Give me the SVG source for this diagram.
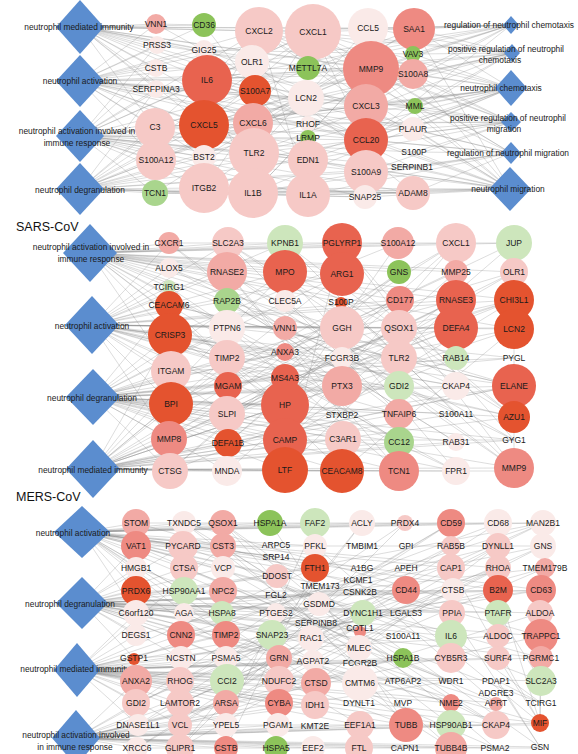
<svg xmlns="http://www.w3.org/2000/svg" width="578" height="754" viewBox="0 0 578 754">
<style>
text{font-family:"Liberation Sans",Arial,sans-serif;font-size:8.5px;fill:#1a1a1a;text-anchor:middle;dominant-baseline:central}
.lb{font-size:8.4px}
.ti{font-size:12.5px;text-anchor:start;fill:#111;dominant-baseline:alphabetic}
.e{stroke:#858585;stroke-width:0.4;fill:none;opacity:0.7}
.d{fill:#5b8dcf}
.r1{fill:#e4532f}.r2{fill:#e8634f}.r3{fill:#ee8a82}.r4{fill:#f2aaa5}.r5{fill:#f6c9c6}.r6{fill:#faeae8}
.g1{fill:#8cc35a}.g2{fill:#a9d58d}.g3{fill:#cde6bc}
</style>
<rect width="578" height="754" fill="#fff"/>
<g id="connectors">
<path class="e" d="M80 27L156 24M80 27L157 45M80 27L156 68M80 27L156 89M80 27L155 128M80 27L204 25M80 27L204 50M80 27L207 80M80 27L204 125M80 27L259 31M80 27L252 62M80 27L255 91M80 27L313 32M80 27L308 68M80 27L306 98M80 27L368 28M80 27L371 69M80 27L414 29M80 27L413 74M80 27L366 106M80 27L253 123M80 27L254 153
M80 81L156 24M80 81L157 45M80 81L156 68M80 81L156 89M80 81L155 128M80 81L156 160M80 81L204 25M80 81L204 50M80 81L207 80M80 81L204 125M80 81L204 157M80 81L259 31M80 81L252 62M80 81L255 91M80 81L253 123M80 81L313 32M80 81L306 98M80 81L308 124M80 81L371 69M80 81L366 106M80 81L366 140M80 81L413 74M80 81L415 106M80 81L413 129M80 81L254 153M80 81L308 160
M80 136L157 45M80 136L156 68M80 136L156 89M80 136L155 128M80 136L156 160M80 136L155 193M80 136L207 80M80 136L204 125M80 136L204 157M80 136L204 188M80 136L255 91M80 136L253 123M80 136L254 153M80 136L253 193M80 136L306 98M80 136L308 138M80 136L308 160M80 136L308 195M80 136L366 106M80 136L366 140M80 136L366 172M80 136L365 197M80 136L413 129M80 136L414 152M80 136L412 167M80 136L413 193M80 136L259 31M80 136L313 32
M80 189L156 89M80 189L155 128M80 189L156 160M80 189L155 193M80 189L204 125M80 189L204 157M80 189L204 188M80 189L253 123M80 189L254 153M80 189L253 193M80 189L308 160M80 189L308 195M80 189L366 172M80 189L365 197M80 189L413 193M80 189L412 167M80 189L366 140M80 189L308 124M80 189L207 80M80 189L255 91M80 189L371 69M80 189L313 32
M511 25L414 29M511 25L413 54M511 25L413 74M511 25L368 28M511 25L371 69M511 25L313 32M511 25L259 31M511 25L207 80M511 25L204 125M511 25L366 106M511 25L366 140M511 25L308 68M511 25L252 62
M512 53L414 29M512 53L413 54M512 53L413 74M512 53L415 106M512 53L371 69M512 53L368 28M512 53L313 32M512 53L259 31M512 53L207 80M512 53L204 125M512 53L366 140M512 53L253 123M512 53L306 98M512 53L254 153
M511 88L414 29M511 88L413 54M511 88L413 74M511 88L415 106M511 88L413 129M511 88L371 69M511 88L366 106M511 88L366 140M511 88L313 32M511 88L259 31M511 88L207 80M511 88L204 125M511 88L253 123M511 88L254 153M511 88L308 160M511 88L253 193M511 88L204 188M511 88L155 128M511 88L308 124
M511 122L413 74M511 122L415 106M511 122L413 129M511 122L414 152M511 122L371 69M511 122L366 106M511 122L366 140M511 122L366 172M511 122L313 32M511 122L259 31M511 122L207 80M511 122L204 125M511 122L253 123M511 122L308 160M511 122L254 153
M511 153L413 129M511 153L414 152M511 153L412 167M511 153L413 193M511 153L366 140M511 153L366 172M511 153L371 69M511 153L313 32M511 153L207 80M511 153L204 125M511 153L253 193M511 153L308 195M511 153L259 31
M510 189L414 29M510 189L413 74M510 189L413 129M510 189L414 152M510 189L412 167M510 189L413 193M510 189L365 197M510 189L366 172M510 189L366 140M510 189L366 106M510 189L371 69M510 189L308 195M510 189L308 160M510 189L313 32M510 189L253 193M510 189L254 153M510 189L204 188M510 189L207 80M510 189L204 125M510 189L259 31M510 189L155 193
M313 32L207 80M313 32L204 125M259 31L207 80M259 31L204 125M207 80L204 125M207 80L253 193M207 80L366 140M371 69L207 80M371 69L204 125M371 69L253 193M313 32L366 140M313 32L366 106M259 31L366 106M204 188L254 153M156 24L204 25M157 45L308 68M156 160L413 74M155 128L414 29M155 193L413 193M155 193L365 197M204 188L413 193M156 89L415 106M204 50L413 54M156 68L371 69M308 195L413 193M253 193L366 172
M155 128L366 172M156 160L371 69M204 157L414 29M252 62L413 193M255 91L412 167M253 123L414 29M254 153L368 28M308 160L204 25M306 98L155 193M366 106L155 128M366 140L156 24M413 129L204 50M308 195L259 31M204 188L313 32M253 193L371 69M156 89L366 140"/>
<path class="e" d="M90 253L169 243M90 253L169 268M90 253L169 287M90 253L169 305M90 253L170 335M90 253L171 371M90 253L228 243M90 253L227 272M90 253L227 301M90 253L227 328M90 253L227 358M90 253L285 243M90 253L285 272M90 253L285 301M90 253L285 328M90 253L342 243M90 253L342 274M90 253L341 302M90 253L342 328M90 253L398 243M90 253L399 272M90 253L400 300M90 253L456 243M90 253L456 272M90 253L456 300M90 253L514 243M90 253L514 272M90 253L514 300M90 253L514 329M90 253L285 405M90 253L342 386
M92 325L169 243M92 325L169 268M92 325L169 287M92 325L169 305M92 325L170 335M92 325L171 371M92 325L171 404M92 325L169 439M92 325L228 243M92 325L227 272M92 325L227 301M92 325L227 328M92 325L227 358M92 325L228 386M92 325L227 414M92 325L285 243M92 325L285 272M92 325L285 328M92 325L285 352M92 325L285 378M92 325L285 405M92 325L342 274M92 325L342 328M92 325L342 358M92 325L342 386M92 325L399 328M92 325L399 358M92 325L400 300M92 325L456 300M92 325L456 328M92 325L456 386M92 325L514 300M92 325L514 329M92 325L514 386M92 325L514 417M92 325L399 414
M93 397L169 305M93 397L170 335M93 397L171 371M93 397L171 404M93 397L169 439M93 397L170 471M93 397L227 328M93 397L227 358M93 397L228 386M93 397L227 414M93 397L228 443M93 397L227 471M93 397L285 352M93 397L285 378M93 397L285 405M93 397L285 440M93 397L285 470M93 397L342 358M93 397L342 386M93 397L342 415M93 397L342 439M93 397L342 471M93 397L399 386M93 397L399 414M93 397L399 442M93 397L399 471M93 397L456 358M93 397L456 386M93 397L456 414M93 397L456 442M93 397L456 471M93 397L514 358M93 397L514 386M93 397L514 417M93 397L514 440M93 397L514 468M93 397L285 272M93 397L342 274M93 397L456 300M93 397L514 300
M93 469L170 335M93 469L171 371M93 469L171 404M93 469L169 439M93 469L170 471M93 469L227 358M93 469L228 386M93 469L227 414M93 469L228 443M93 469L227 471M93 469L285 378M93 469L285 405M93 469L285 440M93 469L285 470M93 469L342 386M93 469L342 415M93 469L342 439M93 469L342 471M93 469L399 414M93 469L399 442M93 469L399 471M93 469L456 414M93 469L456 442M93 469L456 471M93 469L514 386M93 469L514 417M93 469L514 440M93 469L514 468M93 469L285 272M93 469L342 274M93 469L456 328M93 469L514 329M93 469L399 300
M169 243H514M227 328H514M170 471H514M514 243V468M171 404H285M285 440H514
M169 305L514 386M170 335L514 417M171 404L514 300M228 386L514 329M227 272L514 468M285 272L456 471M342 274L514 417M285 405L514 272M227 414L456 300M171 371L456 328M169 439L514 386M285 470L456 300M342 471L514 329M228 443L399 300M170 335L456 471M285 328L514 440M227 301L514 386M342 243L285 470M398 243L285 405M456 243L228 443M514 243L285 440M456 272L171 404M342 328L170 471
M169 268L456 386M169 287L399 442M169 305L342 471M170 335L398 243M171 371L514 358M171 404L456 243M169 439L399 272M170 471L456 358M169 243L399 414M228 243L514 417M227 272L399 471M227 301L456 442M227 328L399 471M227 358L514 272M228 386L456 243M227 414L514 300M228 443L514 386M227 471L456 272M285 243L456 414M285 301L514 468M285 352L514 243M285 378L456 471M285 440L456 243M342 243L514 440M341 302L514 468M342 358L514 300M342 386L169 243M342 415L227 272M343 439L170 335M399 272L170 471M399 328L169 439M399 358L228 243M399 386L171 371M399 414L228 243M399 442L169 305M456 300L169 439M456 328L227 414M456 358L285 272M456 386L170 335M456 414L169 268M456 442L227 301M514 272L227 414M514 300L285 440M514 358L227 328M514 386L169 305M514 417L285 243M514 440L227 272M514 468L342 243"/>
<path class="e" d="M82 532L136 523M82 532L136 546M82 532L136 568M82 532L136 591M82 532L136 613M82 532L184 523M82 532L183 546M82 532L184 568M82 532L184 591M82 532L184 613M82 532L223 523M82 532L223 546M82 532L223 568M82 532L223 591M82 532L222 613M82 532L270 523M82 532L276 557M82 532L277 576M82 532L315 523M82 532L315 546M82 532L315 568M82 532L362 523M82 532L362 568M82 532L405 523M82 532L406 590M82 532L451 523M82 532L451 568M82 532L498 523M82 532L498 568M82 532L543 523M82 532L541 590M82 532L498 590M82 532L451 613M82 532L316 683M82 532L226 635
M82 603L136 546M82 603L136 568M82 603L136 591M82 603L136 613M82 603L136 635M82 603L134 658M82 603L183 546M82 603L184 568M82 603L184 591M82 603L184 613M82 603L181 635M82 603L181 658M82 603L223 568M82 603L223 591M82 603L222 613M82 603L226 635M82 603L226 658M82 603L277 576M82 603L276 595M82 603L276 613M82 603L272 635M82 603L279 658M82 603L315 568M82 603L319 604M82 603L311 638M82 603L363 613M82 603L360 630M82 603L359 648M82 603L406 590M82 603L406 613M82 603L403 636M82 603L453 590M82 603L452 613M82 603L451 636M82 603L498 590M82 603L498 613M82 603L541 590M82 603L540 613M82 603L541 636M82 603L451 703M82 603L406 725
M77 670L136 613M77 670L136 635M77 670L134 658M77 670L136 681M77 670L136 703M77 670L138 725M77 670L181 635M77 670L181 658M77 670L180 681M77 670L180 703M77 670L180 725M77 670L226 635M77 670L226 658M77 670L227 681M77 670L226 703M77 670L226 725M77 670L272 635M77 670L279 658M77 670L279 681M77 670L279 703M77 670L311 638M77 670L313 661M77 670L316 683M77 670L315 705M77 670L360 663M77 670L360 683M77 670L360 725M77 670L403 658M77 670L403 681M77 670L406 725M77 670L451 658M77 670L451 681M77 670L451 703M77 670L451 725M77 670L498 658M77 670L496 703M77 670L496 725M77 670L541 658M77 670L541 681M77 670L540 723M77 670L223 546M77 670L315 568M77 670L406 590
M76 738L136 681M76 738L136 703M76 738L138 725M76 738L137 748M76 738L180 681M76 738L180 703M76 738L180 725M76 738L180 748M76 738L226 703M76 738L226 725M76 738L226 748M76 738L279 703M76 738L278 725M76 738L276 748M76 738L315 705M76 738L315 726M76 738L313 748M76 738L360 725M76 738L359 748M76 738L406 725M76 738L405 748M76 738L451 725M76 738L451 748M76 738L496 725M76 738L495 748M76 738L540 723M76 738L540 747M76 738L451 681M76 738L403 658M76 738L316 683M76 738L279 658M76 738L541 636
M136 523H543M137 748H540M136 546H543M136 591H541M180 725H540
M540 723L498 590M540 723L451 568M540 723L498 658M540 723L406 613M541 703L451 636M541 703L498 681M541 681L498 613M540 747L498 681M540 747L451 613M540 723L541 636M540 723L541 590
M136 523L541 636M136 591L496 703M184 568L541 703M223 546L451 748M136 658L498 523M180 703L543 546M226 635L540 723M138 725L451 523M184 613L495 748M136 681L545 568M272 635L541 590M315 568L226 748M362 523L180 748M405 523L136 703M451 523L180 681M498 546L226 703M223 591L496 725M136 546L541 658M184 523L498 613M223 523L540 747M136 613L451 703M181 635L543 523M226 658L498 568M180 748L453 590
M136 546L498 703M136 568L451 681M136 613L545 568M136 635L498 546M136 703L543 523M137 748L406 590M184 523L451 725M183 546L541 681M184 591L543 523M181 658L498 590M180 681L451 546M180 725L498 523M223 523L495 748M223 568L496 725M222 613L543 546M226 658L451 523M226 703L498 568M272 635L451 748M279 681L543 546M270 523L406 725M315 523L226 725M315 546L496 703M311 638L543 523M316 683L498 546M362 523L226 703M363 613L138 725M359 648L545 568M360 725L136 591M405 523L180 748M406 590L136 703M403 658L184 523M406 725L223 523M451 546L137 748M451 636L136 546M451 681L184 568M498 568L180 703M498 636L136 658M496 725L223 546M541 590L181 635M541 658L136 613M540 613L180 725"/>
</g>
<g id="d-a1"><polygon class="d" points="80,0 104,27 80,54 56,27"/><text class="lb" x="79" y="27">neutrophil mediated immunity</text></g>
<g id="d-a2"><polygon class="d" points="80,55 104,81 80,107 56,81"/><text class="lb" x="80" y="81">neutrophil activation</text></g>
<g id="d-a3"><polygon class="d" points="80,110 104,136 80,162 56,136"/><text class="lb" x="77" y="131">neutrophil activation involved in</text><text class="lb" x="77" y="143">immune response</text></g>
<g id="d-a4"><polygon class="d" points="80,163 104,189 80,215 56,189"/><text class="lb" x="80" y="190">neutrophil degranulation</text></g>
<g id="d-a5"><polygon class="d" points="511,16 519,25 511,34 503,25"/><text class="lb" x="509" y="25">regulation of neutrophil chemotaxis</text></g>
<g id="d-a6"><polygon class="d" points="512,44 520,53 512,62 504,53"/><text class="lb" x="506" y="49">positive regulation of neutrophil</text><text class="lb" x="500" y="60">chemotaxis</text></g>
<g id="d-a7"><polygon class="d" points="511,70 527,88 511,106 495,88"/><text class="lb" x="501" y="88">neutrophil chemotaxis</text></g>
<g id="d-a8"><polygon class="d" points="511,112 521,122 511,132 501,122"/><text class="lb" x="508" y="118">positive regulation of neutrophil</text><text class="lb" x="504" y="129">migration</text></g>
<g id="d-a9"><polygon class="d" points="511,142 521,153 511,164 501,153"/><text class="lb" x="508" y="153">regulation of neutrophil migration</text></g>
<g id="d-a10"><polygon class="d" points="510,167 531,189 510,211 489,189"/><text class="lb" x="508" y="189">neutrophil migration</text></g>
<g id="a-VNN1"><circle class="r4" cx="156" cy="24" r="10"/><text x="156" y="24">VNN1</text></g>
<g id="a-CD36"><circle class="g1" cx="204" cy="25" r="12"/><text x="204" y="25">CD36</text></g>
<g id="a-PRSS3"><circle class="r6" cx="157" cy="45" r="9"/><text x="157" y="45">PRSS3</text></g>
<g id="a-GIG25"><circle class="r6" cx="204" cy="50" r="10"/><text x="204" y="50">GIG25</text></g>
<g id="a-CXCL2"><circle class="r5" cx="259" cy="31" r="24"/><text x="259" y="31">CXCL2</text></g>
<g id="a-OLR1"><circle class="r6" cx="252" cy="62" r="17"/><text x="252" y="62">OLR1</text></g>
<g id="a-CSTB"><circle class="r6" cx="156" cy="68" r="9"/><text x="156" y="68">CSTB</text></g>
<g id="a-IL6"><circle class="r2" cx="207" cy="80" r="25"/><text x="207" y="80">IL6</text></g>
<g id="a-SERFPINA3"><circle class="r6" cx="156" cy="89" r="9"/><text x="156" y="89">SERFPINA3</text></g>
<g id="a-S100A7"><circle class="r1" cx="255" cy="91" r="16"/><text x="255" y="91">S100A7</text></g>
<g id="a-C3"><circle class="r5" cx="155" cy="128" r="20"/><text x="155" y="127">C3</text></g>
<g id="a-CXCL5"><circle class="r1" cx="204" cy="125" r="25"/><text x="204" y="125">CXCL5</text></g>
<g id="a-CXCL6"><circle class="r4" cx="253" cy="123" r="20"/><text x="253" y="123">CXCL6</text></g>
<g id="a-S100A12"><circle class="r5" cx="156" cy="160" r="20"/><text x="156" y="160">S100A12</text></g>
<g id="a-BST2"><circle class="r6" cx="204" cy="157" r="12"/><text x="204" y="157">BST2</text></g>
<g id="a-TLR2"><circle class="r5" cx="254" cy="153" r="25"/><text x="254" y="153">TLR2</text></g>
<g id="a-TCN1"><circle class="g2" cx="155" cy="193" r="13"/><text x="155" y="193">TCN1</text></g>
<g id="a-ITGB2"><circle class="r5" cx="204" cy="188" r="25"/><text x="204" y="188">ITGB2</text></g>
<g id="a-IL1B"><circle class="r5" cx="253" cy="193" r="25"/><text x="253" y="193">IL1B</text></g>
<g id="a-CXCL1"><circle class="r5" cx="313" cy="32" r="28"/><text x="313" y="32">CXCL1</text></g>
<g id="a-METTL7A"><circle class="g1" cx="308" cy="68" r="12"/><text x="308" y="68">METTL7A</text></g>
<g id="a-LCN2"><circle class="r6" cx="306" cy="98" r="18"/><text x="306" y="98">LCN2</text></g>
<g id="a-RHOF"><circle class="r6" cx="308" cy="124" r="8"/><text x="308" y="124">RHOF</text></g>
<g id="a-LRMP"><circle class="g1" cx="308" cy="138" r="8"/><text x="308" y="138">LRMP</text></g>
<g id="a-EDN1"><circle class="r5" cx="308" cy="160" r="20"/><text x="308" y="160">EDN1</text></g>
<g id="a-IL1A"><circle class="r5" cx="308" cy="195" r="22"/><text x="308" y="195">IL1A</text></g>
<g id="a-CCL5"><circle class="r6" cx="368" cy="28" r="20"/><text x="368" y="28">CCL5</text></g>
<g id="a-MMP9"><circle class="r3" cx="371" cy="69" r="28"/><text x="371" y="69">MMP9</text></g>
<g id="a-CXCL3"><circle class="r4" cx="366" cy="106" r="22"/><text x="366" y="106">CXCL3</text></g>
<g id="a-CCL20"><circle class="r2" cx="366" cy="140" r="22"/><text x="366" y="140">CCL20</text></g>
<g id="a-S100A9"><circle class="r5" cx="366" cy="172" r="22"/><text x="366" y="172">S100A9</text></g>
<g id="a-SNAP25"><circle class="r6" cx="365" cy="197" r="12"/><text x="365" y="197">SNAP25</text></g>
<g id="a-SAA1"><circle class="r3" cx="414" cy="29" r="21"/><text x="414" y="29">SAA1</text></g>
<g id="a-VAV3"><circle class="g1" cx="413" cy="54" r="8"/><text x="413" y="54">VAV3</text></g>
<g id="a-S100A8"><circle class="r4" cx="413" cy="74" r="15"/><text x="413" y="74">S100A8</text></g>
<g id="a-MML"><circle class="g1" cx="415" cy="106" r="8"/><text x="415" y="106">MML</text></g>
<g id="a-PLAUR"><circle class="r6" cx="413" cy="129" r="12"/><text x="413" y="129">PLAUR</text></g>
<g id="a-S100P"><text x="414" y="152">S100P</text></g>
<g id="a-SERPINB1"><text x="412" y="167">SERPINB1</text></g>
<g id="a-ADAM8"><circle class="r5" cx="413" cy="193" r="17"/><text x="413" y="193">ADAM8</text></g>
<text class="ti" x="16" y="231">SARS-CoV</text>
<g id="d-s1"><polygon class="d" points="90,224 117,253 90,282 63,253"/><text class="lb" x="91" y="247">neutrophil activation involved in</text><text class="lb" x="91" y="259">immune response</text></g>
<g id="d-s2"><polygon class="d" points="92,296 119,325 92,354 65,325"/><text class="lb" x="92" y="326">neutrophil activation</text></g>
<g id="d-s3"><polygon class="d" points="93,369 120,397 93,425 66,397"/><text class="lb" x="92" y="398">neutrophil degranulation</text></g>
<g id="d-s4"><polygon class="d" points="93,440 120,469 93,498 66,469"/><text class="lb" x="93" y="470">neutrophil mediated immunity</text></g>
<g id="s-CXCR1"><circle class="r4" cx="169" cy="243" r="11"/><text x="169" y="243">CXCR1</text></g>
<g id="s-ALOX5"><circle class="r6" cx="169" cy="268" r="10"/><text x="169" y="268">ALOX5</text></g>
<g id="s-TCIRG1"><circle class="g3" cx="169" cy="287" r="7"/><text x="169" y="287">TCIRG1</text></g>
<g id="s-CEACAM6"><circle class="r1" cx="169" cy="305" r="14"/><text x="169" y="305">CEACAM6</text></g>
<g id="s-CRISP3"><circle class="r1" cx="170" cy="335" r="22"/><text x="170" y="335">CRISP3</text></g>
<g id="s-ITGAM"><circle class="r5" cx="171" cy="371" r="20"/><text x="171" y="371">ITGAM</text></g>
<g id="s-BPI"><circle class="r1" cx="171" cy="404" r="22"/><text x="171" y="404">BPI</text></g>
<g id="s-MMP8"><circle class="r3" cx="169" cy="439" r="18"/><text x="169" y="439">MMP8</text></g>
<g id="s-CTSG"><circle class="r5" cx="170" cy="471" r="18"/><text x="170" y="471">CTSG</text></g>
<g id="s-SLC2A3"><circle class="r5" cx="228" cy="243" r="16"/><text x="228" y="243">SLC2A3</text></g>
<g id="s-RNASE2"><circle class="r4" cx="227" cy="272" r="20"/><text x="227" y="272">RNASE2</text></g>
<g id="s-RAP2B"><circle class="g2" cx="227" cy="301" r="13"/><text x="227" y="301">RAP2B</text></g>
<g id="s-PTPN6"><circle class="r6" cx="227" cy="328" r="18"/><text x="227" y="328">PTPN6</text></g>
<g id="s-TIMP2"><circle class="r5" cx="227" cy="358" r="18"/><text x="227" y="358">TIMP2</text></g>
<g id="s-MGAM"><circle class="r2" cx="228" cy="386" r="14"/><text x="228" y="386">MGAM</text></g>
<g id="s-SLPI"><circle class="r5" cx="227" cy="414" r="18"/><text x="227" y="414">SLPI</text></g>
<g id="s-DEFA1B"><circle class="r1" cx="228" cy="443" r="14"/><text x="228" y="443">DEFA1B</text></g>
<g id="s-MNDA"><circle class="r6" cx="227" cy="471" r="15"/><text x="227" y="471">MNDA</text></g>
<g id="s-KPNB1"><circle class="g3" cx="285" cy="243" r="18"/><text x="285" y="243">KPNB1</text></g>
<g id="s-MPO"><circle class="r2" cx="285" cy="272" r="22"/><text x="285" y="272">MPO</text></g>
<g id="s-CLEC5A"><circle class="r6" cx="285" cy="301" r="11"/><text x="285" y="301">CLEC5A</text></g>
<g id="s-VNN1"><circle class="r4" cx="285" cy="328" r="12"/><text x="285" y="328">VNN1</text></g>
<g id="s-ANXA3"><circle class="r3" cx="285" cy="352" r="9"/><text x="285" y="352">ANXA3</text></g>
<g id="s-MS4A3"><circle class="r2" cx="285" cy="378" r="14"/><text x="285" y="378">MS4A3</text></g>
<g id="s-HP"><circle class="r2" cx="285" cy="405" r="24"/><text x="285" y="405">HP</text></g>
<g id="s-CAMP"><circle class="r2" cx="285" cy="440" r="22"/><text x="285" y="440">CAMP</text></g>
<g id="s-LTF"><circle class="r1" cx="285" cy="470" r="23"/><text x="285" y="470">LTF</text></g>
<g id="s-PGLYRP1"><circle class="r2" cx="342" cy="243" r="20"/><text x="342" y="243">PGLYRP1</text></g>
<g id="s-ARG1"><circle class="r2" cx="342" cy="274" r="22"/><text x="342" y="274">ARG1</text></g>
<g id="s-S100P"><circle class="r1" cx="341" cy="303" r="6"/><text x="341" y="302">S100P</text></g>
<g id="s-GGH"><circle class="r5" cx="342" cy="328" r="22"/><text x="342" y="328">GGH</text></g>
<g id="s-FCGR3B"><circle class="r6" cx="342" cy="358" r="11"/><text x="342" y="358">FCGR3B</text></g>
<g id="s-PTX3"><circle class="r4" cx="342" cy="386" r="20"/><text x="342" y="386">PTX3</text></g>
<g id="s-STXBP2"><text x="342" y="415">STXBP2</text></g>
<g id="s-C3AR1"><circle class="r5" cx="343" cy="439" r="18"/><text x="343" y="439">C3AR1</text></g>
<g id="s-CEACAM8"><circle class="r1" cx="342" cy="471" r="22"/><text x="342" y="471">CEACAM8</text></g>
<g id="s-S100A12"><circle class="r4" cx="398" cy="243" r="16"/><text x="398" y="243">S100A12</text></g>
<g id="s-GNS"><circle class="g1" cx="399" cy="272" r="12"/><text x="399" y="272">GNS</text></g>
<g id="s-CD177"><circle class="r3" cx="400" cy="300" r="14"/><text x="400" y="300">CD177</text></g>
<g id="s-QSOX1"><circle class="r5" cx="399" cy="328" r="18"/><text x="399" y="328">QSOX1</text></g>
<g id="s-TLR2"><circle class="r5" cx="399" cy="358" r="18"/><text x="399" y="358">TLR2</text></g>
<g id="s-GDI2"><circle class="g3" cx="399" cy="386" r="15"/><text x="399" y="386">GDI2</text></g>
<g id="s-TNFAIP6"><circle class="r4" cx="399" cy="414" r="15"/><text x="399" y="414">TNFAIP6</text></g>
<g id="s-CC12"><circle class="g2" cx="399" cy="442" r="15"/><text x="399" y="442">CC12</text></g>
<g id="s-TCN1"><circle class="r3" cx="399" cy="471" r="20"/><text x="399" y="471">TCN1</text></g>
<g id="s-CXCL1"><circle class="r5" cx="456" cy="243" r="20"/><text x="456" y="243">CXCL1</text></g>
<g id="s-MMP25"><circle class="r4" cx="456" cy="272" r="12"/><text x="456" y="272">MMP25</text></g>
<g id="s-RNASE3"><circle class="r2" cx="456" cy="300" r="20"/><text x="456" y="300">RNASE3</text></g>
<g id="s-DEFA4"><circle class="r2" cx="456" cy="328" r="22"/><text x="456" y="328">DEFA4</text></g>
<g id="s-RAB14"><circle class="g3" cx="456" cy="358" r="12"/><text x="456" y="358">RAB14</text></g>
<g id="s-CKAP4"><circle class="r6" cx="456" cy="386" r="14"/><text x="456" y="386">CKAP4</text></g>
<g id="s-S100A11"><text x="456" y="414">S100A11</text></g>
<g id="s-RAB31"><circle class="r6" cx="456" cy="442" r="9"/><text x="456" y="442">RAB31</text></g>
<g id="s-FPR1"><circle class="r6" cx="456" cy="471" r="14"/><text x="456" y="471">FPR1</text></g>
<g id="s-JUP"><circle class="g3" cx="514" cy="243" r="18"/><text x="514" y="243">JUP</text></g>
<g id="s-OLR1"><circle class="r5" cx="514" cy="272" r="14"/><text x="514" y="272">OLR1</text></g>
<g id="s-CHI3L1"><circle class="r1" cx="514" cy="300" r="20"/><text x="514" y="300">CHI3L1</text></g>
<g id="s-LCN2"><circle class="r1" cx="514" cy="329" r="20"/><text x="514" y="329">LCN2</text></g>
<g id="s-PYGL"><text x="514" y="358">PYGL</text></g>
<g id="s-ELANE"><circle class="r2" cx="514" cy="386" r="22"/><text x="514" y="386">ELANE</text></g>
<g id="s-AZU1"><circle class="r1" cx="514" cy="417" r="16"/><text x="514" y="417">AZU1</text></g>
<g id="s-GYG1"><text x="514" y="440">GYG1</text></g>
<g id="s-MMP9"><circle class="r3" cx="514" cy="468" r="20"/><text x="514" y="468">MMP9</text></g>
<text class="ti" x="16" y="501">MERS-CoV</text>
<g id="d-m1"><polygon class="d" points="82,506 110,532 82,558 54,532"/><text class="lb" x="73" y="533">neutrophil activation</text></g>
<g id="d-m2"><polygon class="d" points="82,577 108,603 82,629 56,603"/><text class="lb" x="70" y="604">neutrophil degranulation</text></g>
<g id="d-m3"><polygon class="d" points="77,643 100,670 77,697 54,670"/><text class="lb" x="75" y="669">neutrophil mediated immunity</text></g>
<g id="d-m4"><polygon class="d" points="76,710 100,738 76,766 52,738"/><text class="lb" x="76" y="735">neutrophil activation involved</text><text class="lb" x="75" y="747">in immune response</text></g>
<g id="m-STOM"><circle class="r4" cx="136" cy="523" r="14"/><text x="136" y="523">STOM</text></g>
<g id="m-VAT1"><circle class="r3" cx="136" cy="546" r="15"/><text x="136" y="546">VAT1</text></g>
<g id="m-HMGB1"><circle class="r6" cx="136" cy="568" r="11"/><text x="136" y="568">HMGB1</text></g>
<g id="m-PRDX6"><circle class="r1" cx="136" cy="591" r="15"/><text x="136" y="591">PRDX6</text></g>
<g id="m-C6orf120"><circle class="r6" cx="136" cy="613" r="13"/><text x="136" y="613">C6orf120</text></g>
<g id="m-DEGS1"><circle class="r6" cx="136" cy="635" r="11"/><text x="136" y="635">DEGS1</text></g>
<g id="m-GSTP1"><circle class="r1" cx="134" cy="659" r="6"/><text x="134" y="658">GSTP1</text></g>
<g id="m-ANXA2"><circle class="r4" cx="136" cy="681" r="16"/><text x="136" y="681">ANXA2</text></g>
<g id="m-GDI2"><circle class="r5" cx="136" cy="703" r="14"/><text x="136" y="703">GDI2</text></g>
<g id="m-DNASE1L1"><circle class="r6" cx="138" cy="725" r="11"/><text x="138" y="725">DNASE1L1</text></g>
<g id="m-XRCC6"><circle class="r6" cx="137" cy="748" r="11"/><text x="137" y="748">XRCC6</text></g>
<g id="m-TXNDC5"><circle class="r6" cx="184" cy="523" r="12"/><text x="184" y="523">TXNDC5</text></g>
<g id="m-PYCARD"><circle class="r5" cx="183" cy="546" r="15"/><text x="183" y="546">PYCARD</text></g>
<g id="m-CTSA"><circle class="r5" cx="184" cy="568" r="14"/><text x="184" y="568">CTSA</text></g>
<g id="m-HSP90AA1"><circle class="g3" cx="184" cy="591" r="14"/><text x="184" y="591">HSP90AA1</text></g>
<g id="m-AGA"><circle class="r6" cx="184" cy="613" r="10"/><text x="184" y="613">AGA</text></g>
<g id="m-CNN2"><circle class="r3" cx="181" cy="635" r="14"/><text x="181" y="635">CNN2</text></g>
<g id="m-NCSTN"><circle class="r6" cx="181" cy="658" r="12"/><text x="181" y="658">NCSTN</text></g>
<g id="m-RHOG"><circle class="r5" cx="180" cy="681" r="14"/><text x="180" y="681">RHOG</text></g>
<g id="m-LAMTOR2"><circle class="r5" cx="180" cy="703" r="14"/><text x="180" y="703">LAMTOR2</text></g>
<g id="m-VCL"><circle class="r5" cx="180" cy="725" r="12"/><text x="180" y="725">VCL</text></g>
<g id="m-GLIPR1"><circle class="r5" cx="180" cy="748" r="14"/><text x="180" y="748">GLIPR1</text></g>
<g id="m-QSOX1"><circle class="r4" cx="223" cy="523" r="13"/><text x="223" y="523">QSOX1</text></g>
<g id="m-CST3"><circle class="r4" cx="223" cy="546" r="13"/><text x="223" y="546">CST3</text></g>
<g id="m-VCP"><circle class="r6" cx="223" cy="568" r="12"/><text x="223" y="568">VCP</text></g>
<g id="m-NPC2"><circle class="r4" cx="223" cy="591" r="14"/><text x="223" y="591">NPC2</text></g>
<g id="m-HSPA8"><circle class="g3" cx="222" cy="613" r="12"/><text x="222" y="613">HSPA8</text></g>
<g id="m-TIMP2"><circle class="r3" cx="226" cy="635" r="14"/><text x="226" y="635">TIMP2</text></g>
<g id="m-PSMA5"><circle class="r6" cx="226" cy="658" r="12"/><text x="226" y="658">PSMA5</text></g>
<g id="m-CCI2"><circle class="g3" cx="227" cy="681" r="17"/><text x="227" y="681">CCI2</text></g>
<g id="m-ARSA"><circle class="r4" cx="226" cy="703" r="13"/><text x="226" y="703">ARSA</text></g>
<g id="m-YPEL5"><circle class="r6" cx="226" cy="725" r="12"/><text x="226" y="725">YPEL5</text></g>
<g id="m-CSTB"><circle class="r3" cx="226" cy="748" r="12"/><text x="226" y="748">CSTB</text></g>
<g id="m-HSPA1A"><circle class="g1" cx="270" cy="523" r="13"/><text x="270" y="523">HSPA1A</text></g>
<g id="m-ARPC5"><text x="276" y="545">ARPC5</text></g>
<g id="m-SRP14"><text x="276" y="557">SRP14</text></g>
<g id="m-DDOST"><circle class="r5" cx="277" cy="576" r="12"/><text x="277" y="576">DDOST</text></g>
<g id="m-FGL2"><text x="276" y="595">FGL2</text></g>
<g id="m-PTGES2"><circle class="r6" cx="276" cy="613" r="10"/><text x="276" y="613">PTGES2</text></g>
<g id="m-SNAP23"><circle class="g3" cx="272" cy="635" r="15"/><text x="272" y="635">SNAP23</text></g>
<g id="m-GRN"><circle class="r4" cx="279" cy="658" r="13"/><text x="279" y="658">GRN</text></g>
<g id="m-NDUFC2"><circle class="r5" cx="279" cy="681" r="15"/><text x="279" y="681">NDUFC2</text></g>
<g id="m-CYBA"><circle class="r3" cx="279" cy="703" r="14"/><text x="279" y="703">CYBA</text></g>
<g id="m-PGAM1"><circle class="r6" cx="278" cy="725" r="12"/><text x="278" y="725">PGAM1</text></g>
<g id="m-HSPA5"><circle class="g1" cx="276" cy="748" r="12"/><text x="276" y="748">HSPA5</text></g>
<g id="m-FAF2"><circle class="g3" cx="315" cy="523" r="15"/><text x="315" y="523">FAF2</text></g>
<g id="m-PFKL"><circle class="r6" cx="315" cy="546" r="12"/><text x="315" y="546">PFKL</text></g>
<g id="m-FTH1"><circle class="r1" cx="315" cy="568" r="14"/><text x="315" y="568">FTH1</text></g>
<g id="m-TMEM173"><text x="320" y="586">TMEM173</text></g>
<g id="m-GSDMD"><circle class="r6" cx="319" cy="604" r="12"/><text x="319" y="604">GSDMD</text></g>
<g id="m-SERPINB8"><text x="316" y="623">SERPINB8</text></g>
<g id="m-RAC1"><circle class="r6" cx="311" cy="638" r="13"/><text x="311" y="638">RAC1</text></g>
<g id="m-AGPAT2"><circle class="r6" cx="313" cy="661" r="11"/><text x="313" y="661">AGPAT2</text></g>
<g id="m-CTSD"><circle class="r4" cx="316" cy="683" r="15"/><text x="316" y="683">CTSD</text></g>
<g id="m-IDH1"><circle class="r5" cx="315" cy="705" r="14"/><text x="315" y="705">IDH1</text></g>
<g id="m-KMT2E"><text x="315" y="726">KMT2E</text></g>
<g id="m-EEF2"><circle class="r6" cx="313" cy="748" r="12"/><text x="313" y="748">EEF2</text></g>
<g id="m-ACLY"><circle class="r6" cx="362" cy="523" r="13"/><text x="362" y="523">ACLY</text></g>
<g id="m-TMBIM1"><text x="362" y="546">TMBIM1</text></g>
<g id="m-A1BG"><text x="362" y="568">A1BG</text></g>
<g id="m-KCMF1"><text x="358" y="580">KCMF1</text></g>
<g id="m-CSNK2B"><text x="360" y="592">CSNK2B</text></g>
<g id="m-DYNC1H1"><circle class="g3" cx="363" cy="613" r="13"/><text x="363" y="613">DYNC1H1</text></g>
<g id="m-COTL1"><circle class="r3" cx="360" cy="632" r="6"/><text x="360" y="628">COTL1</text></g>
<g id="m-MLEC"><circle class="r6" cx="359" cy="648" r="13"/><text x="359" y="648">MLEC</text></g>
<g id="m-FCGR2B"><text x="360" y="663">FCGR2B</text></g>
<g id="m-CMTM6"><circle class="r6" cx="360" cy="683" r="18"/><text x="360" y="683">CMTM6</text></g>
<g id="m-DYNLT1"><text x="359" y="703">DYNLT1</text></g>
<g id="m-EEF1A1"><circle class="r5" cx="360" cy="725" r="14"/><text x="360" y="725">EEF1A1</text></g>
<g id="m-FTL"><circle class="r5" cx="359" cy="748" r="14"/><text x="359" y="748">FTL</text></g>
<g id="m-PRDX4"><circle class="r5" cx="405" cy="523" r="8"/><text x="405" y="523">PRDX4</text></g>
<g id="m-GPI"><text x="406" y="546">GPI</text></g>
<g id="m-APEH"><text x="406" y="568">APEH</text></g>
<g id="m-CD44"><circle class="r3" cx="406" cy="590" r="14"/><text x="406" y="590">CD44</text></g>
<g id="m-LGALS3"><text x="406" y="613">LGALS3</text></g>
<g id="m-S100A11"><text x="403" y="636">S100A11</text></g>
<g id="m-HSPA1B"><circle class="g1" cx="403" cy="658" r="10"/><text x="403" y="658">HSPA1B</text></g>
<g id="m-ATP6AP2"><text x="403" y="681">ATP6AP2</text></g>
<g id="m-MVP"><text x="403" y="703">MVP</text></g>
<g id="m-TUBB"><circle class="r3" cx="406" cy="725" r="17"/><text x="406" y="725">TUBB</text></g>
<g id="m-CAPN1"><text x="405" y="748">CAPN1</text></g>
<g id="m-CD59"><circle class="r3" cx="451" cy="523" r="14"/><text x="451" y="523">CD59</text></g>
<g id="m-RAB5B"><circle class="r5" cx="451" cy="546" r="10"/><text x="451" y="546">RAB5B</text></g>
<g id="m-CAP1"><circle class="r5" cx="451" cy="568" r="14"/><text x="451" y="568">CAP1</text></g>
<g id="m-CTSB"><circle class="r6" cx="453" cy="590" r="12"/><text x="453" y="590">CTSB</text></g>
<g id="m-PPIA"><circle class="r5" cx="452" cy="613" r="13"/><text x="452" y="613">PPIA</text></g>
<g id="m-IL6"><circle class="g3" cx="451" cy="636" r="16"/><text x="451" y="636">IL6</text></g>
<g id="m-CYB5R3"><circle class="r5" cx="451" cy="658" r="15"/><text x="451" y="658">CYB5R3</text></g>
<g id="m-WDR1"><text x="451" y="681">WDR1</text></g>
<g id="m-NME2"><circle class="r3" cx="451" cy="703" r="9"/><text x="451" y="703">NME2</text></g>
<g id="m-HSP90AB1"><circle class="g3" cx="451" cy="725" r="15"/><text x="451" y="725">HSP90AB1</text></g>
<g id="m-TUBB4B"><circle class="r4" cx="451" cy="748" r="16"/><text x="451" y="748">TUBB4B</text></g>
<g id="m-CD68"><circle class="r6" cx="498" cy="523" r="14"/><text x="498" y="523">CD68</text></g>
<g id="m-DYNLL1"><circle class="r5" cx="498" cy="546" r="13"/><text x="498" y="546">DYNLL1</text></g>
<g id="m-RHOA"><circle class="r5" cx="498" cy="568" r="13"/><text x="498" y="568">RHOA</text></g>
<g id="m-B2M"><circle class="r2" cx="498" cy="590" r="15"/><text x="498" y="590">B2M</text></g>
<g id="m-PTAFR"><circle class="g3" cx="498" cy="613" r="13"/><text x="498" y="613">PTAFR</text></g>
<g id="m-ALDOC"><circle class="r5" cx="498" cy="636" r="12"/><text x="498" y="636">ALDOC</text></g>
<g id="m-SURF4"><circle class="r5" cx="498" cy="658" r="12"/><text x="498" y="658">SURF4</text></g>
<g id="m-PDAP1"><text x="496" y="681">PDAP1</text></g>
<g id="m-ADGRE3"><text x="496" y="693">ADGRE3</text></g>
<g id="m-APRT"><circle class="r4" cx="496" cy="704" r="7"/><text x="496" y="703">APRT</text></g>
<g id="m-CKAP4"><circle class="r5" cx="496" cy="725" r="14"/><text x="496" y="725">CKAP4</text></g>
<g id="m-PSMA2"><text x="495" y="748">PSMA2</text></g>
<g id="m-MAN2B1"><circle class="r6" cx="543" cy="523" r="13"/><text x="543" y="523">MAN2B1</text></g>
<g id="m-GNS"><circle class="r6" cx="543" cy="546" r="13"/><text x="543" y="546">GNS</text></g>
<g id="m-TMEM179B"><circle class="r4" cx="545" cy="568" r="10"/><text x="545" y="568">TMEM179B</text></g>
<g id="m-CD63"><circle class="r3" cx="541" cy="590" r="15"/><text x="541" y="590">CD63</text></g>
<g id="m-ALDOA"><circle class="r5" cx="540" cy="613" r="13"/><text x="540" y="613">ALDOA</text></g>
<g id="m-TRAPPC1"><circle class="r3" cx="541" cy="636" r="17"/><text x="541" y="636">TRAPPC1</text></g>
<g id="m-PGRMC1"><circle class="r4" cx="541" cy="658" r="12"/><text x="541" y="658">PGRMC1</text></g>
<g id="m-SLC2A3"><circle class="g3" cx="541" cy="681" r="15"/><text x="541" y="681">SLC2A3</text></g>
<g id="m-TCIRG1"><text x="541" y="703">TCIRG1</text></g>
<g id="m-MIF"><circle class="r1" cx="540" cy="723" r="9"/><text x="540" y="723">MIF</text></g>
<g id="m-GSN"><text x="540" y="747">GSN</text></g>
</svg>
